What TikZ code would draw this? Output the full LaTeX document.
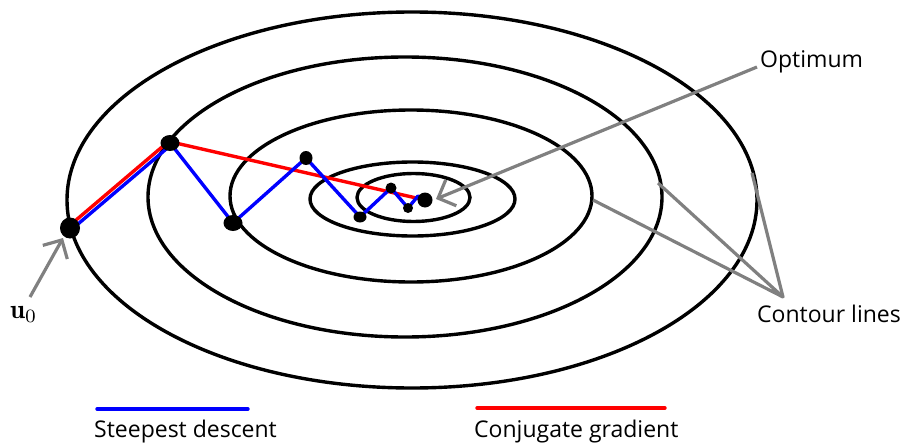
\documentclass[tikz,border=0pt]{standalone}
\usepackage{graphicx}
\usepackage{fontspec}
\setsansfont{Open Sans}
\usetikzlibrary{arrows.meta,shapes.geometric}
\begin{document}
\begin{tikzpicture}[x=1pt,y=-1pt,
  contour/.style={draw=black,line width=3.4pt},
  sd/.style={draw=blue,line width=3.4pt,line join=round},
  cg/.style={draw=red,line width=3.4pt,line join=round},
  pointer/.style={draw=gray,line width=3.2pt},
  tipped/.style={pointer,-{Straight Barb[length=14pt,width=28pt,line width=3.2pt]}},
  dot/.style={ellipse,fill=black,inner sep=0pt},
  lbl/.style={font=\sffamily\fontsize{23}{28}\selectfont,inner sep=0pt,text=black}
]
\useasboundingbox (0,0) rectangle (907,444);
% contour ellipses
\draw[contour] (412,200) ellipse [x radius=345, y radius=188];
\draw[contour] (405,197) ellipse [x radius=257, y radius=140];
\draw[contour] (411,196) ellipse [x radius=181, y radius=86];
\draw[contour] (412.5,199) ellipse [x radius=102.5, y radius=37];
\draw[contour] (413.5,197.5) ellipse [x radius=56.5, y radius=24];
% iterate positions
\coordinate (u0) at (70,228);
\coordinate (p1) at (170,143);
\coordinate (p2) at (233,223);
\coordinate (p3) at (306,158);
\coordinate (p4) at (360,217);
\coordinate (p5) at (391,188);
\coordinate (p6) at (408,208);
\coordinate (pb) at (418,196);
\coordinate (p7) at (425,200);
% conjugate gradient
\draw[cg] ([shift={(-1.4,-1.6)}]u0) -- ([shift={(-1.4,-1.6)}]p1) -- (p7);
% steepest descent
\draw[sd] ([shift={(1.4,1.6)}]u0) -- ([shift={(1.4,1.6)}]p1) -- (p2) -- (p3) -- (p4) -- (p5) -- (p6) -- (pb) -- (p7);
% dots
\node[dot,minimum width=20pt,minimum height=21pt] (du0) at (u0) {};
\node[dot,minimum width=19pt,minimum height=16pt] (dp1) at (p1) {};
\node[dot,minimum width=19pt,minimum height=16pt] (dp2) at (p2) {};
\node[dot,minimum width=13pt,minimum height=14pt] (dp3) at (p3) {};
\node[dot,minimum width=13pt,minimum height=11pt] (dp4) at (p4) {};
\node[dot,minimum width=11pt,minimum height=11pt] (dp5) at (p5) {};
\node[dot,minimum width=10pt,minimum height=10pt] (dp6) at (p6) {};
\node[dot,minimum width=15pt,minimum height=15pt] (dp7) at (p7) {};
% labels
\node[lbl,anchor=base west] (opt) at (760,67) {Optimum};
\node[lbl,anchor=base west] (cl) at (757,322) {Contour lines};
\node[inner sep=0pt,anchor=base west] (ulbl) at (10,318) {\scalebox{2.7}{$\mathbf{u}_0$}};
% pointers
\coordinate (optfoot) at (757,67);
\coordinate (opttip) at (436,199);
\draw[tipped] (optfoot) -- (opttip);
\coordinate (ufoot) at (30,297);
\coordinate (utip) at (63,238);
\draw[tipped] (ufoot) -- (utip);
\coordinate (clfoot) at (783,297);
\coordinate (c3) at (593,200);
\coordinate (c2) at (658,183);
\coordinate (c1) at (752,173);
\draw[pointer,line join=round] (c3) -- (clfoot) -- (c2);
\draw[pointer] (clfoot) -- (c1);
% legend
\coordinate (sdA) at (97,409);
\coordinate (sdB) at (248,409);
\coordinate (cgA) at (477,408);
\coordinate (cgB) at (665,408);
\draw[sd,line cap=round] (sdA) -- (sdB);
\draw[cg,line cap=round] (cgA) -- (cgB);
\node[lbl,anchor=base west] (sdlbl) at (94,437) {Steepest descent};
\node[lbl,anchor=base west] (cglbl) at (474,437) {Conjugate gradient};
\end{tikzpicture}
\end{document}
